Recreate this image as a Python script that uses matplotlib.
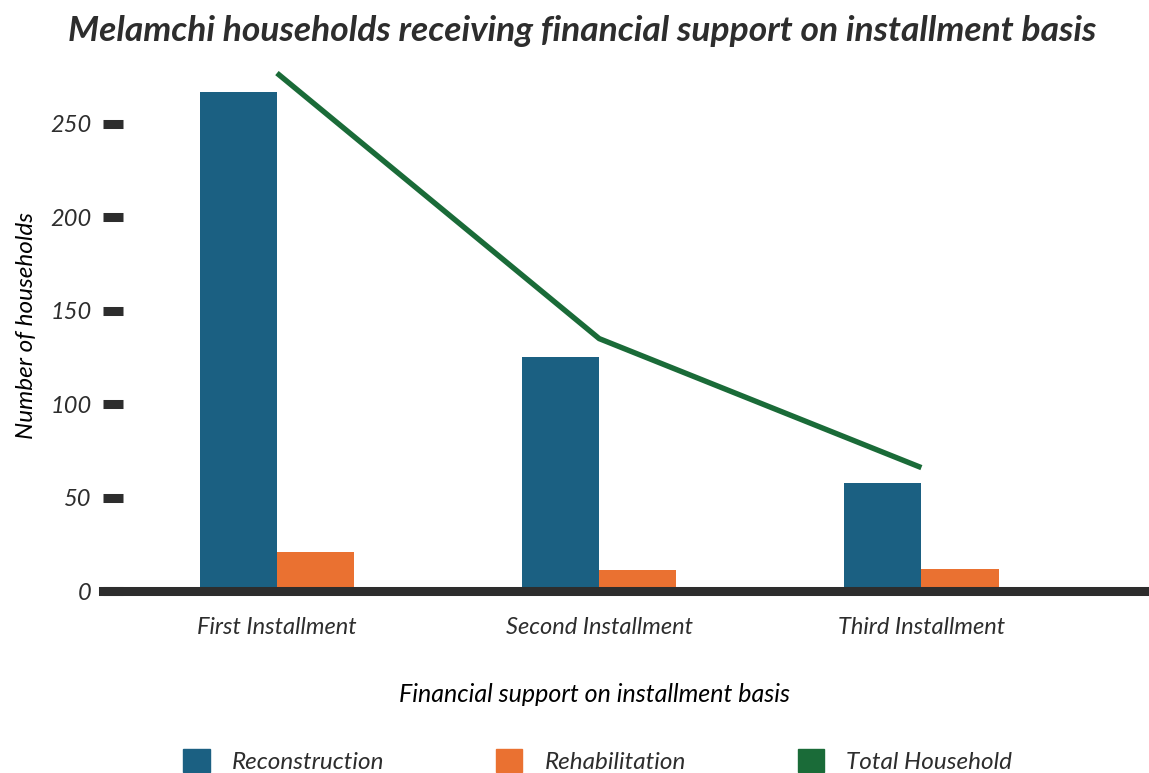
import matplotlib
matplotlib.use("Agg")

import matplotlib.pyplot as plt
from matplotlib.patches import Patch
import numpy as np

# ── Data ────────────────────────────────────────────────────────────────────
categories     = ["First Installment", "Second Installment", "Third Installment"]
reconstruction = [267, 125, 58]
rehabilitation = [21, 11, 12]
total_house    = [277, 135, 66]
y_ticks        = [0, 50, 100, 150, 200, 250]

COLORS = {
    "recon": "#1B6082",
    "rehab": "#EA7131",
    "total": "#1A6B38",
    "text":  "#2D2D2D",
}

plt.rcParams.update({
    "font.family": ["Lato", "DejaVu Sans"],
    "font.style":  "italic",
    "text.color":  COLORS["text"],
})

fig = plt.figure(figsize=(11.49, 7.73), dpi=100)
ax = fig.add_axes([0.0896, 0.2354, 0.9086, 0.687])

x = np.arange(len(categories))
w = 0.24

ax.bar(x - w / 2, reconstruction, w, color=COLORS["recon"], label="Reconstruction", zorder=2)
ax.bar(x + w / 2, rehabilitation, w, color=COLORS["rehab"], label="Rehabilitation", zorder=2)
ax.plot(x, total_house, color=COLORS["total"], lw=3.9, label="Total Household",
        solid_capstyle="butt", zorder=3)

ax.set_xlim(-0.54, 2.70)
ax.set_ylim(0, 284)

for s in ["top", "right", "left"]:
    ax.spines[s].set_visible(False)
ax.spines["bottom"].set_linewidth(6.5)
ax.spines["bottom"].set_color(COLORS["text"])
ax.spines["bottom"].set_zorder(4)

ax.set_yticks(y_ticks)
ax.tick_params(axis="y", direction="in", length=14.4, width=6.5,
               color=COLORS["text"], pad=8, labelsize=17, labelcolor=COLORS["text"])
ax.set_xticks(x)
ax.set_xticklabels(categories)
ax.tick_params(axis="x", length=0, pad=19, labelsize=17, labelcolor=COLORS["text"])

ax.set_ylabel("Number of households", fontsize=17.5, labelpad=10)
ax.set_xlabel("Financial support on installment basis", fontsize=18)
ax.xaxis.set_label_coords(0.471, -0.173)

fig.suptitle("Melamchi households receiving financial support on installment basis",
             x=0.507, y=0.981, fontsize=25.5, fontweight="bold", style="italic")

# legend with square patches for all three
handles = [Patch(color=COLORS["recon"], label="Reconstruction"),
           Patch(color=COLORS["rehab"], label="Rehabilitation"),
           Patch(color=COLORS["total"], label="Total Household")]
fig.legend(handles=handles, loc="center", bbox_to_anchor=(0.52, 0.016), ncol=3,
           frameon=False, fontsize=17.5, handlelength=1.1, handleheight=1.1,
           handletextpad=0.9, columnspacing=4.6)

fig.savefig("out.png", dpi=100, facecolor="white")
